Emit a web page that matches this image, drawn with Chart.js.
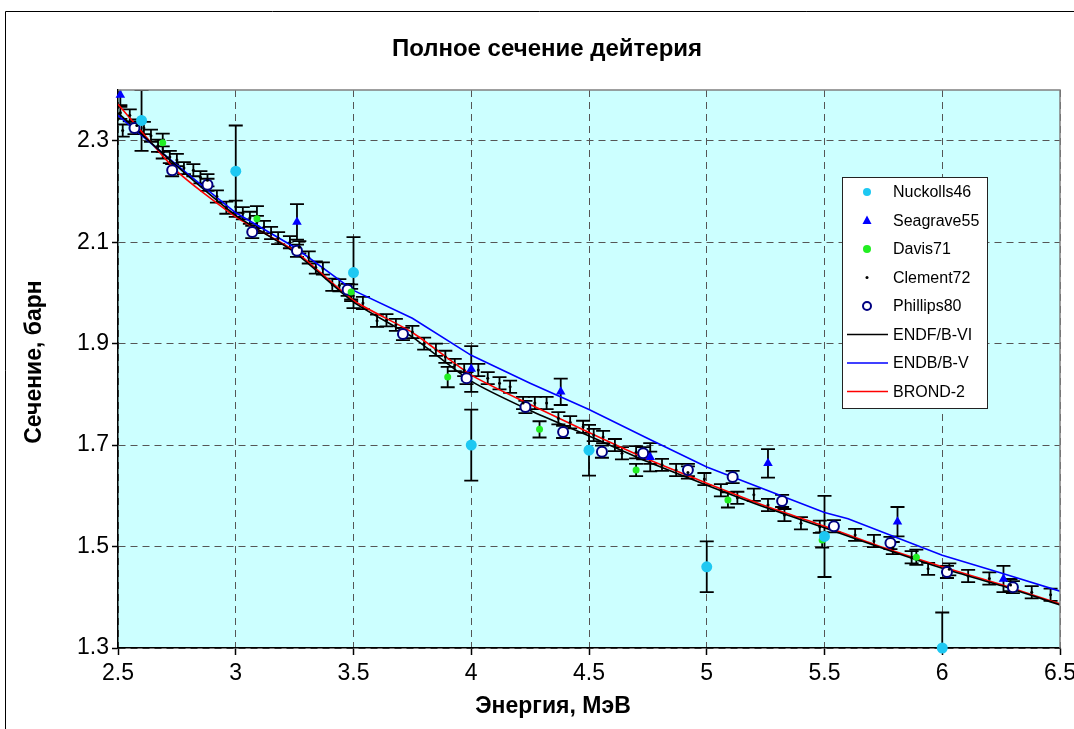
<!DOCTYPE html>
<html>
<head>
<meta charset="utf-8">
<script src="https://cdn.jsdelivr.net/npm/chart.js@4.4.0/dist/chart.umd.min.js"></script>
<style>
  html, body { margin: 0; padding: 0; background: #fff; }
  #wrap { width: 1074px; height: 729px; }
</style>
</head>
<body>
<div id="wrap"><canvas id="chart" width="1074" height="729"></canvas></div>
<script>
// Axis ticks
const xTicks = [2.5, 3, 3.5, 4, 4.5, 5, 5.5, 6, 6.5];
const yTicks = [1.3, 1.5, 1.7, 1.9, 2.1, 2.3];

// Nuckolls46
const nuckE = [2.6, 3.0, 3.5, 4.0, 4.5, 5.0, 5.5, 6.0];
const nuckS = [2.34, 2.24, 2.04, 1.70, 1.69, 1.46, 1.52, 1.30];
const nuckErr = [0.06, 0.09, 0.07, 0.07, 0.05, 0.05, 0.08, 0.07];

// Seagrave55
const seaE = [2.51, 3.26, 4.0, 4.38, 4.76, 5.26, 5.81, 6.26];
const seaS = [2.39, 2.14, 1.85, 1.805, 1.676, 1.664, 1.549, 1.436];
const seaErr = [0.02, 0.035, 0.045, 0.026, 0.028, 0.028, 0.029, 0.026];

// Davis71
const davE = [2.69, 3.09, 3.49, 3.90, 4.29, 4.70, 5.09, 5.49, 5.89];
const davS = [2.296, 2.146, 2.002, 1.834, 1.731, 1.651, 1.592, 1.513, 1.479];
const davErr = [0.018, 0.025, 0.015, 0.02, 0.016, 0.012, 0.015, 0.015, 0.015];

// Clement72
const clemE = [2.51, 2.52, 2.55, 2.58, 2.61, 2.64, 2.67, 2.69, 2.72, 2.75, 2.78, 2.82, 2.85, 2.88,
  2.92, 2.96, 3.00, 3.03, 3.06, 3.09, 3.12, 3.15, 3.18, 3.23, 3.27, 3.31, 3.34, 3.37, 3.41, 3.44,
  3.49, 3.54, 3.60, 3.64, 3.68, 3.75, 3.80, 3.85, 3.89, 3.93, 3.97, 4.03, 4.07, 4.12, 4.165, 4.22,
  4.27, 4.32, 4.37, 4.42, 4.475, 4.52, 4.56, 4.61, 4.64, 4.70, 4.76, 4.81, 4.87, 4.92, 4.99, 5.06,
  5.13, 5.20, 5.26, 5.33, 5.40, 5.48, 5.63, 5.71, 5.79, 5.87, 5.94, 6.03, 6.11, 6.20, 6.29, 6.38, 6.46];
const clemS = [2.355, 2.32, 2.35, 2.33, 2.325, 2.31, 2.29, 2.277, 2.268, 2.262, 2.246, 2.242, 2.228, 2.222,
  2.19, 2.168, 2.17, 2.157, 2.148, 2.14, 2.13, 2.118, 2.108, 2.10, 2.09, 2.07, 2.05, 2.048, 2.016, 2.015,
  1.996, 1.98, 1.945, 1.946, 1.937, 1.923, 1.90, 1.888, 1.874, 1.858, 1.848, 1.848, 1.832, 1.822, 1.815, 1.783,
  1.783, 1.783, 1.753, 1.745, 1.736, 1.72, 1.716, 1.70, 1.684, 1.686, 1.675, 1.661, 1.651, 1.646, 1.633, 1.611,
  1.596, 1.602, 1.582, 1.562, 1.546, 1.539, 1.523, 1.511, 1.497, 1.479, 1.456, 1.455, 1.442, 1.437, 1.424, 1.41, 1.405];
const clemErr = 0.012;

// Phillips80
const phE = [2.57, 2.73, 2.88, 3.07, 3.26, 3.475, 3.71, 3.98, 4.23, 4.39, 4.555, 4.73, 4.92, 5.11, 5.32, 5.54, 5.78, 6.02, 6.30];
const phS = [2.325, 2.242, 2.213, 2.12, 2.083, 2.006, 1.919, 1.832, 1.775, 1.726, 1.687, 1.684, 1.651, 1.637, 1.59, 1.54, 1.507, 1.45, 1.42];
const phErr = 0.012;

// Evaluated curves
const curveE = [2.5, 2.75, 3.0, 3.25, 3.5, 3.75, 4.0, 4.25, 4.5, 4.75, 5.0, 5.25, 5.5, 5.75, 6.0, 6.25, 6.5];
const endf6 = [2.355, 2.25, 2.153, 2.08, 1.982, 1.913, 1.826, 1.768, 1.718, 1.667, 1.621, 1.577, 1.537, 1.496, 1.457, 1.423, 1.385];
const brond2 = [2.372, 2.24, 2.15, 2.083, 1.985, 1.922, 1.838, 1.78, 1.725, 1.672, 1.625, 1.58, 1.54, 1.498, 1.46, 1.425, 1.387];
const endbE = [2.5, 2.75, 3.0, 3.25, 3.5, 3.75, 4.0, 4.25, 4.5, 4.75, 5.0, 5.25, 5.5, 5.6, 6.0, 6.25, 6.5];
const endb5 = [2.35, 2.252, 2.158, 2.09, 2.005, 1.95, 1.877, 1.822, 1.77, 1.713, 1.657, 1.612, 1.567, 1.555, 1.483, 1.448, 1.412];

function pts(xs, ys) { return xs.map((x, i) => ({ x: x, y: ys[i] })); }
function errs(e, n) { return Array.isArray(e) ? e : new Array(n).fill(e); }

const FONT = "'Liberation Sans', Arial, sans-serif";

const datasets = [
  { label: 'Nuckolls46', data: pts(nuckE, nuckS), errors: errs(nuckErr, nuckE.length), clip: false,
    pointStyle: 'circle', pointRadius: 5.5, backgroundColor: '#1ec8f2', borderColor: '#1ec8f2', borderWidth: 0 },
  { label: 'Seagrave55', data: pts(seaE, seaS), errors: errs(seaErr, seaE.length), clip: false,
    pointStyle: 'triangle', pointRadius: 5.5, backgroundColor: '#0000ff', borderColor: '#0000ff', borderWidth: 0 },
  { label: 'Davis71', data: pts(davE, davS), errors: errs(davErr, davE.length),
    pointStyle: 'circle', pointRadius: 3.5, backgroundColor: '#22ee22', borderColor: '#22ee22', borderWidth: 0 },
  { label: 'Clement72', data: pts(clemE, clemS), errors: errs(clemErr, clemE.length),
    pointStyle: 'circle', pointRadius: 1.5, backgroundColor: '#000', borderColor: '#000', borderWidth: 0 },
  { label: 'Phillips80', data: pts(phE, phS), errors: errs(phErr, phE.length),
    pointStyle: 'circle', pointRadius: 5, backgroundColor: '#fff', borderColor: '#000080', borderWidth: 2 },
  { label: 'ENDF/B-VI', data: pts(curveE, endf6), showLine: true, pointRadius: 0,
    borderColor: '#000', borderWidth: 1.6, tension: 0.2 },
  { label: 'ENDB/B-V', data: pts(endbE, endb5), showLine: true, pointRadius: 0,
    borderColor: '#0000ff', borderWidth: 1.6, tension: 0 },
  { label: 'BROND-2', data: pts(curveE, brond2), showLine: true, pointRadius: 0,
    borderColor: '#ff0000', borderWidth: 1.6, tension: 0.2 }
];

// Background, frame, titles, legend
const decor = {
  id: 'decor',
  beforeDraw(chart) {
    const { ctx, chartArea: a } = chart;
    ctx.save();
    ctx.fillStyle = '#fff';
    ctx.fillRect(0, 0, chart.width, chart.height);
    ctx.fillStyle = '#ccffff';
    ctx.fillRect(a.left, a.top, a.right - a.left, a.bottom - a.top);
    ctx.strokeStyle = '#000';
    ctx.lineWidth = 1;
    ctx.beginPath();
    ctx.moveTo(5.5, chart.height);
    ctx.lineTo(5.5, 11.5);
    ctx.lineTo(chart.width, 11.5);
    ctx.stroke();
    ctx.restore();
  },
  afterDraw(chart) {
    const { ctx, chartArea: a } = chart;
    ctx.save();
    // plot border top / right
    ctx.strokeStyle = '#808080';
    ctx.lineWidth = 1.5;
    ctx.beginPath();
    ctx.moveTo(a.left, a.top);
    ctx.lineTo(a.right, a.top);
    ctx.lineTo(a.right, a.bottom);
    ctx.stroke();

    ctx.fillStyle = '#000';
    ctx.textAlign = 'center';
    ctx.textBaseline = 'middle';
    ctx.font = 'bold 24px ' + FONT;
    ctx.fillText('Полное сечение дейтерия', 547, 49);
    ctx.font = 'bold 23px ' + FONT;
    ctx.fillText('Энергия, МэВ', 553, 707);
    ctx.translate(35, 362);
    ctx.rotate(-Math.PI / 2);
    ctx.fillText('Сечение, барн', 0, 0);
    ctx.restore();

    // legend
    const lx = 842, ly = 177, lw = 145, lh = 231;
    ctx.save();
    ctx.fillStyle = '#fff';
    ctx.fillRect(lx, ly, lw, lh);
    ctx.strokeStyle = '#222';
    ctx.lineWidth = 1;
    ctx.strokeRect(lx + 0.5, ly + 0.5, lw, lh);
    ctx.font = '16px ' + FONT;
    ctx.textBaseline = 'middle';
    ctx.textAlign = 'left';
    chart.data.datasets.forEach((ds, i) => {
      const y = 192 + i * 28.5;
      if (ds.showLine) {
        ctx.strokeStyle = ds.borderColor;
        ctx.lineWidth = 1.6;
        ctx.beginPath();
        ctx.moveTo(847, y);
        ctx.lineTo(888, y);
        ctx.stroke();
      } else {
        const r = ds.pointRadius === 1.5 ? 1.5 : 4;
        ctx.fillStyle = ds.backgroundColor;
        ctx.strokeStyle = ds.borderColor;
        ctx.lineWidth = ds.borderWidth;
        ctx.beginPath();
        if (ds.pointStyle === 'triangle') {
          ctx.moveTo(867, y - 5); ctx.lineTo(871.5, y + 3.5); ctx.lineTo(862.5, y + 3.5); ctx.closePath();
        } else {
          ctx.arc(867, y, r, 0, Math.PI * 2);
        }
        ctx.fill();
        if (ds.borderWidth) ctx.stroke();
      }
      ctx.fillStyle = '#000';
      ctx.fillText(ds.label, 893, y + 1);
    });
    ctx.restore();
  }
};

// Vertical error bars with caps, drawn through the scales
const errorBars = {
  id: 'errorBars',
  beforeDatasetsDraw(chart) {
    const { ctx, chartArea: a, scales: { x, y } } = chart;
    ctx.save();
    ctx.beginPath();
    ctx.rect(a.left, a.top, a.right - a.left, a.bottom - a.top);
    ctx.clip();
    ctx.strokeStyle = '#000';
    ctx.lineWidth = 1.8;
    chart.data.datasets.forEach(ds => {
      if (!ds.errors) return;
      ds.data.forEach((p, i) => {
        const e = ds.errors[i];
        const px = x.getPixelForValue(p.x);
        const y1 = y.getPixelForValue(p.y + e);
        const y2 = y.getPixelForValue(p.y - e);
        ctx.beginPath();
        ctx.moveTo(px, y1); ctx.lineTo(px, y2);
        ctx.moveTo(px - 7, y1); ctx.lineTo(px + 7, y1);
        ctx.moveTo(px - 7, y2); ctx.lineTo(px + 7, y2);
        ctx.stroke();
      });
    });
    ctx.restore();
  }
};

new Chart(document.getElementById('chart').getContext('2d'), {
  type: 'scatter',
  data: { datasets: datasets },
  options: {
    responsive: false,
    animation: false,
    layout: { padding: { left: 0, top: 90, right: 14, bottom: 0 } },
    plugins: { legend: { display: false }, tooltip: { enabled: false } },
    scales: {
      x: {
        type: 'linear', min: 2.5, max: 6.5,
        afterBuildTicks: s => { s.ticks = xTicks.map(v => ({ value: v })); },
        afterFit: s => { s.height = 81; s.paddingRight = 0; s.paddingLeft = 0; },
        grid: { color: '#555', lineWidth: 1, tickColor: '#000', tickLength: 7, tickWidth: 1.5 },
        border: { color: '#000', width: 1.5, dash: [7, 5] },
        ticks: { color: '#000', font: { family: FONT, size: 23 }, padding: 5, maxRotation: 0,
          callback: v => String(v) }
      },
      y: {
        type: 'linear', min: 1.3, max: 2.4,
        afterBuildTicks: s => { s.ticks = yTicks.map(v => ({ value: v })); },
        afterFit: s => { s.width = 118; s.paddingTop = 0; s.paddingBottom = 0; },
        grid: { color: '#555', lineWidth: 1, tickColor: '#000', tickLength: 6, tickWidth: 1.5 },
        border: { color: '#000', width: 1.5, dash: [7, 5] },
        ticks: { color: '#000', font: { family: FONT, size: 23 }, padding: 3,
          callback: v => String(v) }
      }
    }
  },
  plugins: [decor, errorBars]
});
</script>
</body>
</html>
